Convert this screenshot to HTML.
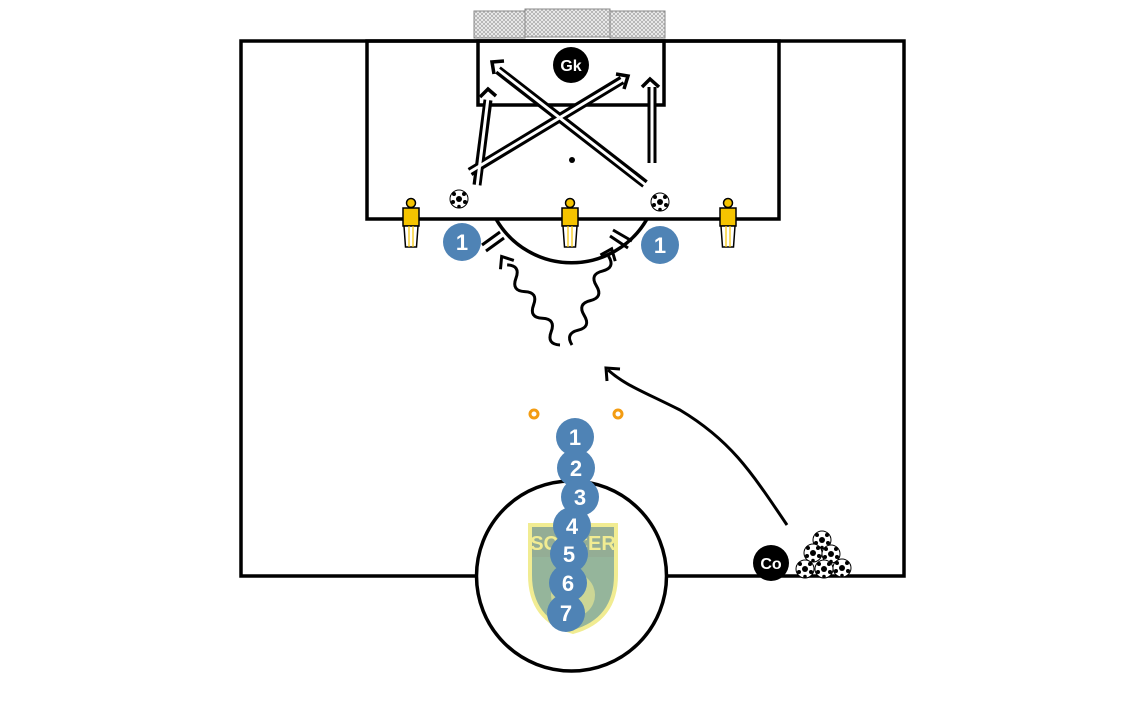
<!DOCTYPE html>
<html><head><meta charset="utf-8"><style>html,body{margin:0;padding:0;background:#fff}svg{display:block}text{font-family:"Liberation Sans",sans-serif;font-weight:bold}</style></head><body>
<svg width="1143" height="714" viewBox="0 0 1143 714" xmlns="http://www.w3.org/2000/svg">
<defs>
<pattern id="net" width="4" height="4" patternUnits="userSpaceOnUse"><rect width="4" height="4" fill="#eee"/><path d="M0 0L4 4M4 0L0 4" stroke="#999" stroke-width="0.6"/></pattern>
<g id="ball"><circle r="9" fill="#fff" stroke="#000" stroke-width="1"/><circle r="3" fill="#000"/><circle cx="-5" cy="-5" r="2" fill="#000"/><circle cx="5" cy="-5" r="2" fill="#000"/><circle cx="6" cy="3" r="2" fill="#000"/><circle cx="-6" cy="3" r="2" fill="#000"/><circle cx="0" cy="7.5" r="1.8" fill="#000"/></g>
<g id="man"><circle cx="0" cy="-19" r="4.5" fill="#f5c400" stroke="#000" stroke-width="1.5"/><path d="M-8 -14h16v18h-16z" fill="#f5c400" stroke="#000" stroke-width="1.5"/><path d="M-7 4h14l-1.5 21h-11z" fill="#fff" stroke="#000" stroke-width="1.5"/><path d="M-2 4v21M2 4v21" stroke="#f5c400" stroke-width="1.2"/></g>
</defs>
<rect x="474" y="11" width="51" height="27" fill="url(#net)" stroke="#888"/>
<rect x="525" y="9" width="85" height="28" fill="url(#net)" stroke="#888"/>
<rect x="610" y="11" width="55" height="27" fill="url(#net)" stroke="#888"/>
<g fill="none" stroke="#000" stroke-width="3.5">
<rect x="241" y="41" width="663" height="535"/>
<rect x="367" y="41" width="412" height="178"/>
<rect x="478" y="41" width="186" height="64"/>
<path d="M496 219 A87 87 0 0 0 647 219"/>
</g>
<circle cx="571.5" cy="576" r="95" fill="#fff" stroke="#000" stroke-width="3.5"/>
<circle cx="572" cy="160" r="3" fill="#000"/>
<g opacity="0.55"><path d="M530 525h86v50q0 45 -43 57q-43 -12 -43 -57z" fill="#3f7a4a" stroke="#e6dd3a" stroke-width="4"/><rect x="532" y="527" width="82" height="30" fill="#3d6b40"/><text x="573" y="550" font-size="20" fill="#e6dd3a" text-anchor="middle">SOCCER</text><circle cx="573" cy="595" r="22" fill="#e6dd3a" opacity="0.6"/></g>
<g fill="none" stroke-linecap="butt">
<g stroke="#000" stroke-width="9"><path d="M477 185L488 100"/><path d="M470 172L622 80"/><path d="M645 184L498 70"/><path d="M652 163L652 87"/></g>
<g stroke="#fff" stroke-width="3"><path d="M477 187L488 98"/><path d="M468 173L624 79"/><path d="M647 186L496 68"/><path d="M652 165L652 85"/></g>
<g stroke="#000" stroke-width="3.5"><path d="M480 97L488 89L496 96"/><path d="M616 74L628 76L624 89"/><path d="M494 74L492 62L504 61"/><path d="M642 87L650 79L659 87"/></g>
</g>
<g stroke="#000" stroke-width="3"><path d="M482 245L500 232M486 251L504 238"/><path d="M613 230L632 241M610 236L628 248"/></g>
<g fill="none" stroke="#000" stroke-width="3">
<g transform="translate(560,345) rotate(-123.4)"><path d="M0 0q8 -11 16 0t16 0t16 0t16 0t16 0t16 0"/><path d="M96 -8L106 0L96 8"/></g>
<g transform="translate(572,345) rotate(-67.6)"><path d="M0 0q8 -11 16 0t16 0t16 0t16 0t16 0t16 0"/><path d="M94 -8L104 0L94 8"/></g>
<path d="M787 525C750 470 730 440 680 410C640 390 625 385 608 370"/>
<path d="M607 381L606 368L620 369"/>
</g>
<use href="#man" x="411" y="222"/><use href="#man" x="570" y="222"/><use href="#man" x="728" y="222"/>
<use href="#ball" x="459" y="199"/><use href="#ball" x="660" y="202"/>
<use href="#ball" x="822" y="540"/><use href="#ball" x="813" y="553"/><use href="#ball" x="831" y="554"/><use href="#ball" x="805" y="569"/><use href="#ball" x="824" y="569"/><use href="#ball" x="842" y="568"/>
<circle cx="534" cy="414" r="4" fill="none" stroke="#f39c12" stroke-width="3"/>
<circle cx="618" cy="414" r="4" fill="none" stroke="#f39c12" stroke-width="3"/>
<g fill="#4f83b5">
<circle cx="462" cy="242" r="19"/><circle cx="660" cy="245" r="19"/>
<circle cx="575" cy="437" r="19"/><circle cx="576" cy="468" r="19"/><circle cx="580" cy="497" r="19"/><circle cx="572" cy="526" r="19"/><circle cx="569" cy="554" r="19"/><circle cx="568" cy="583" r="19"/><circle cx="566" cy="613" r="19"/>
</g>
<g fill="#fff" font-size="22" text-anchor="middle">
<text x="462" y="250">1</text><text x="660" y="253">1</text>
<text x="575" y="445">1</text><text x="576" y="476">2</text><text x="580" y="505">3</text><text x="572" y="534">4</text><text x="569" y="562">5</text><text x="568" y="591">6</text><text x="566" y="621">7</text>
</g>
<circle cx="571" cy="65" r="18" fill="#000"/><text x="571" y="71" fill="#fff" font-size="16" text-anchor="middle">Gk</text>
<circle cx="771" cy="563" r="18" fill="#000"/><text x="771" y="569" fill="#fff" font-size="16" text-anchor="middle">Co</text>
</svg>
</body></html>
